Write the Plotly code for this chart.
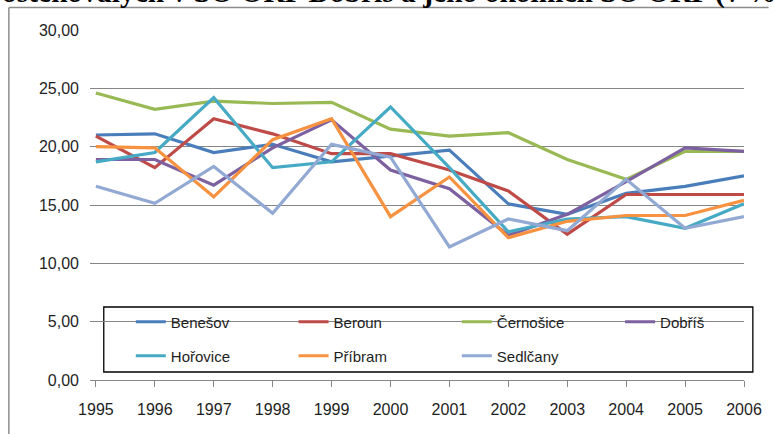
import plotly.graph_objects as go

years = [1995, 1996, 1997, 1998, 1999, 2000, 2001, 2002, 2003, 2004, 2005, 2006]

benesov   = [21.0, 21.1, 19.5, 20.2, 18.7, 19.2, 19.7, 15.1, 14.2, 16.0, 16.6, 17.5]
beroun    = [20.9, 18.2, 22.4, 21.1, 19.4, 19.4, 18.0, 16.2, 12.5, 15.9, 15.9, 15.9]
cernosice = [24.6, 23.2, 23.9, 23.7, 23.8, 21.5, 20.9, 21.2, 18.9, 17.2, 19.6, 19.6]
dobris    = [18.9, 18.9, 16.7, 19.9, 22.3, 18.0, 16.4, 12.4, 14.2, 17.0, 19.9, 19.6]
horovice  = [18.7, 19.5, 24.2, 18.2, 18.7, 23.4, 18.2, 12.7, 13.8, 14.0, 13.0, 15.1]
pribram   = [20.0, 19.9, 15.7, 20.6, 22.4, 14.0, 17.4, 12.2, 13.6, 14.1, 14.1, 15.4]
sedlcany  = [16.6, 15.15, 18.3, 14.3, 20.2, 19.1, 11.4, 13.8, 12.8, 17.2, 13.0, 14.0]

series_names = ["Benešov", "Beroun", "Černošice", "Dobříš", "Hořovice", "Příbram", "Sedlčany"]
series_vals = [benesov, beroun, cernosice, dobris, horovice, pribram, sedlcany]
colors = ["#4A7EBB", "#BE4B48", "#98B954", "#7D60A0", "#46AAC5", "#F69240", "#91A9D3"]

y_ticks = [0, 5, 10, 15, 20, 25, 30]
title_text = "ostěhovalých v SO ORP Dobříš a jeho okolních SO ORP (v %)"

FONT = "Liberation Sans, Arial, sans-serif"
TXT = "#1e1e1e"

W, H = 774, 434
L, R, T, B = 90, 19, 30, 54
pw, ph = W - L - R, H - T - B

def px_x(p):
    return (p - L) / pw

def px_y(p):
    return (H - B - p) / ph

# legend grid: text-start x pixel, row-centre y pixel
legend_text_x = [171.5, 337, 503, 669, 171.5, 337, 503]
legend_row_y = [322, 322, 322, 322, 356, 356, 356]
legend_ids = ["legend"] + ["legend%d" % i for i in range(2, 8)]

fig = go.Figure()
for name, vals, col, lg in zip(series_names, series_vals, colors, legend_ids):
    fig.add_trace(go.Scatter(x=years, y=vals, name=name, mode="lines",
                             line=dict(color=col, width=3.2), legend=lg))

layout_legends = {}
for lg, tx, ty in zip(legend_ids, legend_text_x, legend_row_y):
    layout_legends[lg] = dict(x=px_x(tx - 40), y=px_y(ty), xanchor="left", yanchor="middle",
                              orientation="h", bgcolor="rgba(0,0,0,0)", borderwidth=0,
                              font=dict(family=FONT, size=15, color=TXT), itemwidth=30)

fig.update_layout(
    width=W, height=H,
    margin=dict(l=L, r=R, t=T, b=B),
    paper_bgcolor="white", plot_bgcolor="white",
    separators=",.",
    font=dict(family=FONT, size=16, color=TXT),
    xaxis=dict(range=[1994.9, 2006.0], tickvals=years, ticks="outside", ticklen=6,
               tickcolor="#868686", showline=True, linecolor="#868686", linewidth=1,
               showgrid=False, zeroline=False, ticklabelstandoff=9,
               ticklabeloverflow="allow",
               tickfont=dict(family=FONT, size=16, color=TXT)),
    yaxis=dict(range=[0, 30], tickvals=y_ticks, tickformat=".2f", showgrid=True,
               gridcolor="#868686", gridwidth=1, zeroline=False, showline=False,
               ticks="", ticklabelstandoff=10,
               tickfont=dict(family=FONT, size=16, color=TXT)),
    showlegend=True,
    **layout_legends,
)

# legend frame
fig.add_shape(type="rect", xref="paper", yref="paper",
              x0=px_x(104), x1=px_x(764), y0=px_y(372), y1=px_y(307),
              line=dict(color="black", width=1.3), fillcolor="white", layer="below")
# chart-area frame (left and top edges visible)
fig.add_shape(type="line", xref="paper", yref="paper",
              x0=px_x(7.5), x1=px_x(7.5), y0=px_y(7.5), y1=px_y(440),
              line=dict(color="#8c8c8c", width=1.5))
fig.add_shape(type="line", xref="paper", yref="paper",
              x0=px_x(7.5), x1=px_x(780), y0=px_y(7.5), y1=px_y(7.5),
              line=dict(color="#8c8c8c", width=1.5))

# clipped document caption above the chart
fig.add_annotation(text="<b>" + title_text + "</b>", xref="paper", yref="paper",
                   x=px_x(-2), y=px_y(11.5), xanchor="left", yanchor="bottom",
                   showarrow=False,
                   font=dict(family="Liberation Serif, Times New Roman, serif", size=29.5, color="black"))

fig.write_html("out.html", config={"displayModeBar": False},
               post_script="document.body.style.margin='0';document.body.style.overflow='hidden';")
